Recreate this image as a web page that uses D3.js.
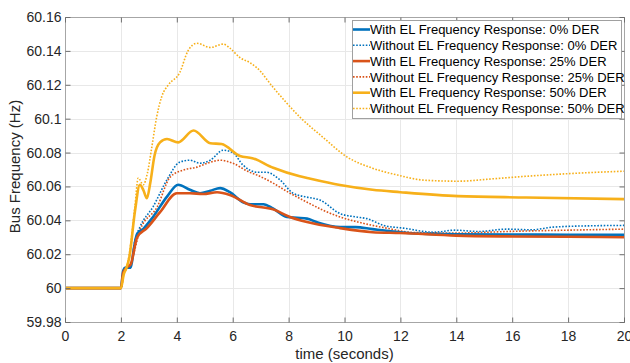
<!DOCTYPE html>
<html>
<head>
<meta charset="utf-8">
<script src="https://cdn.jsdelivr.net/npm/d3@7"></script>
<style>
  html, body { margin: 0; padding: 0; background: #fff; }
  svg { display: block; font-family: "Liberation Sans", Arial, sans-serif; }
</style>
</head>
<body>
<svg id="chart" width="630" height="363"></svg>
<script>
// Bus frequency after the event at t = 2 s, for three DER penetration levels,
// with and without the EL frequency response. Each series is [time s, freq Hz].
const withEL0 = [[0,60],[2,60],[2.08,60.010],[2.15,60.012],[2.35,60.012],[2.47,60.024],[2.58,60.032],[2.8,60.035],
  [3.15,60.042],[3.65,60.054],[4.05,60.061],[4.47,60.058],[4.83,60.056],[5.2,60.0575],[5.55,60.059],[5.9,60.0566],
  [6.37,60.0507],[6.62,60.0495],[7.1,60.0495],[7.44,60.047],[7.94,60.042],[8.3,60.0415],[8.66,60.041],[9.0,60.039],
  [9.84,60.036],[10.4,60.036],[11.0,60.0348],[12,60.033],[13,60.032],[14,60.0318],[16,60.0316],[18,60.0315],[20,60.0314]];

const withoutEL0 = [[0,60],[2,60],[2.08,60.010],[2.15,60.012],[2.35,60.013],[2.5,60.028],[2.68,60.036],[3.15,60.048],
  [3.65,60.064],[4.1,60.0743],[4.47,60.0755],[4.83,60.0737],[5.2,60.0755],[5.66,60.0814],[6.0,60.080],[6.37,60.0726],
  [6.87,60.0684],[7.2,60.0684],[7.7,60.0637],[8.16,60.056],[8.66,60.0537],[9.12,60.052],[9.84,60.044],[10.4,60.042],
  [10.8,60.041],[11.4,60.037],[12.1,60.0354],[13.2,60.033],[13.95,60.0342],[14.8,60.0334],[15.8,60.0348],
  [16.7,60.0344],[17.46,60.036],[18.9,60.0368],[20,60.037]];

const withEL25 = [[0,60],[2,60],[2.08,60.009],[2.2,60.012],[2.35,60.014],[2.58,60.030],[2.93,60.0354],[3.4,60.0448],
  [4.0,60.056],[4.47,60.056],[4.94,60.0555],[5.44,60.0566],[5.9,60.055],[6.62,60.049],[7.44,60.0465],[8.05,60.042],
  [8.66,60.039],[9.84,60.0354],[11.0,60.033],[12,60.0325],[14,60.031],[16,60.0305],[18,60.0303],[20,60.030]];

const withoutEL25 = [[0,60],[2,60],[2.08,60.009],[2.2,60.012],[2.35,60.015],[2.68,60.034],[3.3,60.048],[3.76,60.0655],
  [4.22,60.0696],[4.72,60.0714],[5.2,60.0743],[5.55,60.0755],[6.0,60.0737],[6.6,60.0684],[6.87,60.0667],[7.44,60.062],
  [8.05,60.056],[8.66,60.0507],[9.23,60.046],[9.84,60.042],[10.66,60.0383],[11.5,60.0354],[12.5,60.0328],
  [14,60.0325],[16,60.0335],[18,60.0342],[20,60.0348]];

const withEL50 = [[0,60],[2,60],[2.1,60.008],[2.2,60.012],[2.3,60.018],[2.5,60.045],[2.68,60.061],[2.8,60.058],
  [2.93,60.053],[3.05,60.062],[3.2,60.078],[3.4,60.086],[3.65,60.088],[4.05,60.086],[4.6,60.093],[5.2,60.0855],
  [5.6,60.085],[6.26,60.078],[6.7,60.0767],[7.45,60.071],[8.4,60.066],[8.66,60.065],[9.84,60.0608],[11.0,60.058],
  [12,60.0566],[14.06,60.0543],[16.5,60.0535],[20,60.0525]];

const withoutEL50 = [[0,60],[2,60],[2.1,60.008],[2.2,60.012],[2.3,60.02],[2.5,60.048],[2.62,60.065],[2.8,60.061],
  [2.95,60.068],[3.1,60.0826],[3.28,60.101],[3.46,60.113],[3.7,60.12],[4.1,60.127],[4.4,60.140],[4.72,60.1445],
  [5.2,60.142],[5.66,60.144],[5.9,60.1416],[6.26,60.136],[6.62,60.133],[6.87,60.130],[7.44,60.1186],[8.4,60.101],
  [9.23,60.089],[10.1,60.0773],[11.0,60.0708],[11.9,60.0667],[12.85,60.0637],[14.06,60.0631],[15.3,60.0645],
  [16.5,60.066],[18.3,60.0678],[20,60.069]];

const xTicks = [0,2,4,6,8,10,12,14,16,18,20];
const yTicks = [59.98,60,60.02,60.04,60.06,60.08,60.1,60.12,60.14,60.16];
const yTickLabels = ["59.98","60","60.02","60.04","60.06","60.08","60.1","60.12","60.14","60.16"];

const seriesNames = [
  "With EL Frequency Response: 0% DER",
  "Without EL Frequency Response: 0% DER",
  "With EL Frequency Response: 25% DER",
  "Without EL Frequency Response: 25% DER",
  "With EL Frequency Response: 50% DER",
  "Without EL Frequency Response: 50% DER"
];
const seriesData = [withEL0, withoutEL0, withEL25, withoutEL25, withEL50, withoutEL50];

const blue = "#0072BD", red = "#D95319", gold = "#F7B01A";
const styles = [
  {color: blue, dotted: false}, {color: blue, dotted: true},
  {color: red, dotted: false},  {color: red, dotted: true},
  {color: gold, dotted: false}, {color: gold, dotted: true}
];

const svg = d3.select("#chart");
const plot = {left: 65, right: 624, top: 17, bottom: 322};

const x = d3.scaleLinear().domain([0, 20]).range([plot.left, plot.right]);
const y = d3.scaleLinear().domain([59.98, 60.16]).range([plot.bottom, plot.top]);

// grid
const grid = svg.append("g").attr("stroke", "#e8e8e8").attr("stroke-width", 1);
xTicks.forEach(t => grid.append("line")
  .attr("x1", Math.round(x(t)) + 0.5).attr("x2", Math.round(x(t)) + 0.5)
  .attr("y1", plot.top).attr("y2", plot.bottom));
yTicks.forEach(t => grid.append("line")
  .attr("y1", Math.round(y(t)) + 0.5).attr("y2", Math.round(y(t)) + 0.5)
  .attr("x1", plot.left).attr("x2", plot.right));

// curves
const line = d3.line().x(d => x(d[0])).y(d => y(d[1])).curve(d3.curveMonotoneX);
const curves = svg.append("g").attr("fill", "none");
// dotted series first so the solid ones sit on top
[1, 3, 5, 0, 2, 4].forEach(i => {
  const s = styles[i];
  curves.append("path")
    .datum(seriesData[i])
    .attr("d", line)
    .attr("stroke", s.color)
    .attr("stroke-width", s.dotted ? 1.6 : 2.6)
    .attr("stroke-dasharray", s.dotted ? "1.6,1.6" : null)
    .attr("stroke-linejoin", "round");
});

// axes box
const axisColor = "#a6a6a6";
const tickColor = "#6e6e6e";
svg.append("rect")
  .attr("x", plot.left + 0.5).attr("y", plot.top + 0.5)
  .attr("width", plot.right - plot.left).attr("height", plot.bottom - plot.top)
  .attr("fill", "none").attr("stroke", axisColor);

const xAxisBottom = d3.axisBottom(x).tickValues(xTicks).tickSizeInner(-5).tickSizeOuter(0).tickPadding(9);
const gx = svg.append("g").attr("transform", `translate(0,${plot.bottom + 0.5})`).call(xAxisBottom);
const xAxisTop = d3.axisTop(x).tickValues(xTicks).tickSizeInner(-5).tickSizeOuter(0).tickFormat("");
const gxt = svg.append("g").attr("transform", `translate(0,${plot.top + 0.5})`).call(xAxisTop);
const yAxisLeft = d3.axisLeft(y).tickValues(yTicks).tickSizeInner(-5).tickSizeOuter(0).tickPadding(4)
  .tickFormat((d, i) => yTickLabels[i]);
const gy = svg.append("g").attr("transform", `translate(${plot.left + 0.5},0)`).call(yAxisLeft);
const yAxisRight = d3.axisRight(y).tickValues(yTicks).tickSizeInner(-5).tickSizeOuter(0).tickFormat("");
const gyr = svg.append("g").attr("transform", `translate(${plot.right + 0.5},0)`).call(yAxisRight);

[gx, gxt, gy, gyr].forEach(g => {
  g.select(".domain").remove();
  g.selectAll(".tick line").attr("stroke", tickColor);
  g.selectAll(".tick text").attr("fill", "#262626").style("font-size", "14px")
    .style("font-family", "'Liberation Sans', Arial, sans-serif");
});

// axis titles
svg.append("text")
  .attr("x", (plot.left + plot.right) / 2).attr("y", 359)
  .attr("text-anchor", "middle").attr("fill", "#262626").style("font-size", "15px")
  .text("time (seconds)");
svg.append("text")
  .attr("transform", `translate(20,${(plot.top + plot.bottom) / 2 - 3}) rotate(-90)`)
  .attr("text-anchor", "middle").attr("fill", "#262626").style("font-size", "15px")
  .text("Bus Frequency (Hz)");

// legend
const legend = {x: 352, y: 20, w: 269, h: 98, row: 15.8};
const lg = svg.append("g");
lg.append("rect")
  .attr("x", legend.x + 0.5).attr("y", legend.y + 0.5)
  .attr("width", legend.w).attr("height", legend.h)
  .attr("fill", "#fff").attr("stroke", "#a0a0a0");
seriesNames.forEach((name, i) => {
  const cy = legend.y + 9.5 + i * legend.row;
  const s = styles[i];
  lg.append("line")
    .attr("x1", legend.x + 1).attr("x2", legend.x + 18)
    .attr("y1", cy).attr("y2", cy)
    .attr("stroke", s.color)
    .attr("stroke-width", s.dotted ? 1.6 : 2.6)
    .attr("stroke-dasharray", s.dotted ? "1.6,1.6" : null);
  lg.append("text")
    .attr("x", legend.x + 18).attr("y", cy + 4.6)
    .attr("fill", "#000").style("font-size", "13px")
    .text(name);
});
</script>
</body>
</html>
